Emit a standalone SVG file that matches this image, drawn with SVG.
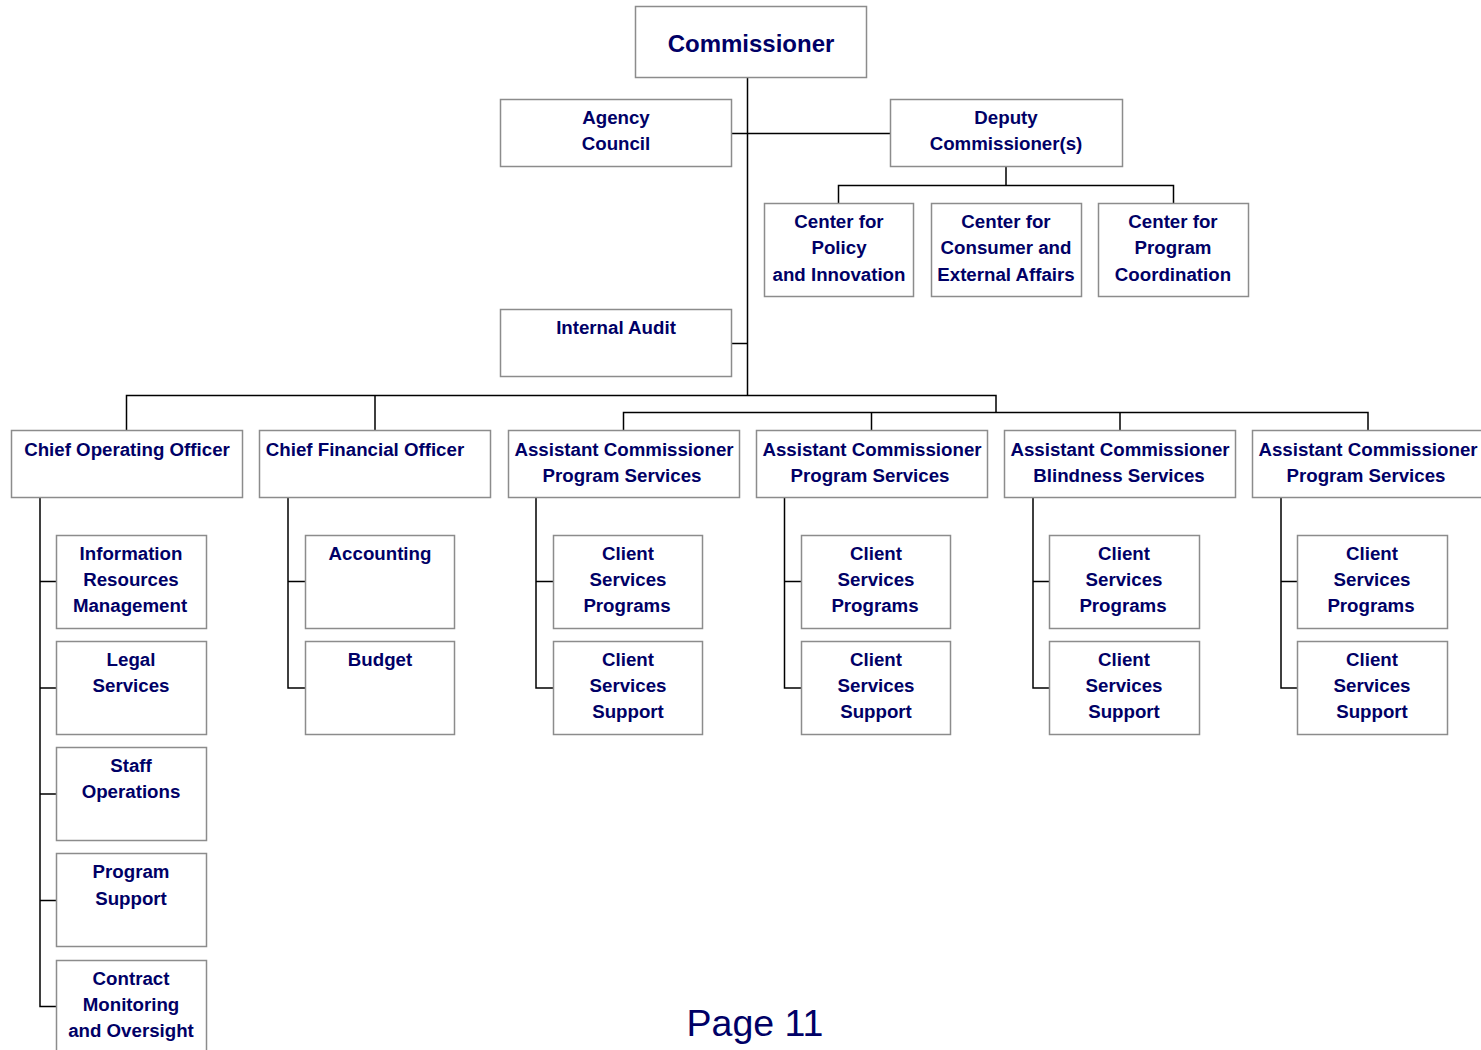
<svg xmlns="http://www.w3.org/2000/svg" width="1481" height="1050" viewBox="0 0 1481 1050">
  <style>
    .box { fill: #ffffff; stroke: #8c8c8c; stroke-width: 1.5; }
    .lbl { font-family: "Liberation Sans", Arial, sans-serif; font-weight: bold; font-size: 18.7px; fill: #000066; text-anchor: middle; }
    .big { font-size: 24px; }
    .page { font-family: "Liberation Sans", Arial, sans-serif; font-size: 37.5px; fill: #000066; text-anchor: middle; }
    .wire { fill: none; stroke: #000000; stroke-width: 1.5; }
  </style>
  <rect width="1481" height="1050" fill="#ffffff"/>

  <!-- connectors -->
  <g id="connectors" class="wire">
    <!-- commissioner trunk and staff offices -->
    <path d="M747.5 77 V395.5"/>
    <path d="M731 133.5 H890"/>
    <path d="M731 343.5 H747.5"/>
    <!-- deputy to centers -->
    <path d="M1006 166 V185.5 M838.5 203 V185.5 H1173.5 V203"/>
    <!-- main branch bar -->
    <path d="M126.5 430 V395.5 H996 V412.5 M375 395.5 V430"/>
    <path d="M623.5 430 V412.5 H1368 V430 M871.5 412.5 V430 M1120 412.5 V430"/>
    <!-- COO column -->
    <path d="M40 497 V1006.5 H56 M40 581.5 H56 M40 688 H56 M40 794 H56 M40 900.5 H56"/>
    <!-- CFO column -->
    <path d="M288 497 V688 H305 M288 581.5 H305"/>
    <!-- assistant commissioner columns -->
    <path d="M536 497 V688 H553 M536 581.5 H553"/>
    <path d="M784.5 497 V688 H801 M784.5 581.5 H801"/>
    <path d="M1033 497 V688 H1049 M1033 581.5 H1049"/>
    <path d="M1281 497 V688 H1297 M1281 581.5 H1297"/>
  </g>

  <!-- top -->
  <g id="commissioner">
    <rect class="box" x="635.5" y="6.5" width="231" height="71"/>
    <text class="lbl big" x="751" y="52">Commissioner</text>
  </g>
  <g id="agency-council">
    <rect class="box" x="500.5" y="99.5" width="231" height="67"/>
    <text class="lbl" x="616" y="124">Agency</text>
    <text class="lbl" x="616" y="150">Council</text>
  </g>
  <g id="deputy-commissioner">
    <rect class="box" x="890.5" y="99.5" width="232" height="67"/>
    <text class="lbl" x="1006" y="124">Deputy</text>
    <text class="lbl" x="1006" y="150">Commissioner(s)</text>
  </g>
  <g id="center-policy">
    <rect class="box" x="764.5" y="203.5" width="149" height="93"/>
    <text class="lbl" x="839" y="228">Center for</text>
    <text class="lbl" x="839" y="254">Policy</text>
    <text class="lbl" x="839" y="281">and Innovation</text>
  </g>
  <g id="center-consumer">
    <rect class="box" x="931.5" y="203.5" width="150" height="93"/>
    <text class="lbl" x="1006" y="228">Center for</text>
    <text class="lbl" x="1006" y="254">Consumer and</text>
    <text class="lbl" x="1006" y="281">External Affairs</text>
  </g>
  <g id="center-program">
    <rect class="box" x="1098.5" y="203.5" width="150" height="93"/>
    <text class="lbl" x="1173" y="228">Center for</text>
    <text class="lbl" x="1173" y="254">Program</text>
    <text class="lbl" x="1173" y="281">Coordination</text>
  </g>
  <g id="internal-audit">
    <rect class="box" x="500.5" y="309.5" width="231" height="67"/>
    <text class="lbl" x="616" y="334">Internal Audit</text>
  </g>

  <!-- second level -->
  <g id="coo">
    <rect class="box" x="11.5" y="430.5" width="231" height="67"/>
    <text class="lbl" x="127" y="456">Chief Operating Officer</text>
  </g>
  <g id="cfo">
    <rect class="box" x="259.5" y="430.5" width="231" height="67"/>
    <text class="lbl" x="365" y="456">Chief Financial Officer</text>
  </g>
  <g id="ac-program-1">
    <rect class="box" x="508.5" y="430.5" width="231" height="67"/>
    <text class="lbl" x="624" y="456">Assistant Commissioner</text>
    <text class="lbl" x="622" y="482">Program Services</text>
  </g>
  <g id="ac-program-2">
    <rect class="box" x="756.5" y="430.5" width="231" height="67"/>
    <text class="lbl" x="872" y="456">Assistant Commissioner</text>
    <text class="lbl" x="870" y="482">Program Services</text>
  </g>
  <g id="ac-blindness">
    <rect class="box" x="1004.5" y="430.5" width="231" height="67"/>
    <text class="lbl" x="1120" y="456">Assistant Commissioner</text>
    <text class="lbl" x="1119" y="482">Blindness Services</text>
  </g>
  <g id="ac-program-3">
    <rect class="box" x="1252.5" y="430.5" width="231" height="67"/>
    <text class="lbl" x="1368" y="456">Assistant Commissioner</text>
    <text class="lbl" x="1366" y="482">Program Services</text>
  </g>

  <!-- COO units -->
  <g id="info-resources">
    <rect class="box" x="56.5" y="535.5" width="150" height="93"/>
    <text class="lbl" x="131" y="560">Information</text>
    <text class="lbl" x="131" y="586">Resources</text>
    <text class="lbl" x="130" y="612">Management</text>
  </g>
  <g id="legal-services">
    <rect class="box" x="56.5" y="641.5" width="150" height="93"/>
    <text class="lbl" x="131" y="666">Legal</text>
    <text class="lbl" x="131" y="692">Services</text>
  </g>
  <g id="staff-operations">
    <rect class="box" x="56.5" y="747.5" width="150" height="93"/>
    <text class="lbl" x="131" y="772">Staff</text>
    <text class="lbl" x="131" y="798">Operations</text>
  </g>
  <g id="program-support">
    <rect class="box" x="56.5" y="853.5" width="150" height="93"/>
    <text class="lbl" x="131" y="878">Program</text>
    <text class="lbl" x="131" y="905">Support</text>
  </g>
  <g id="contract-monitoring">
    <rect class="box" x="56.5" y="960.5" width="150" height="93"/>
    <text class="lbl" x="131" y="985">Contract</text>
    <text class="lbl" x="131" y="1011">Monitoring</text>
    <text class="lbl" x="131" y="1037">and Oversight</text>
  </g>

  <!-- CFO units -->
  <g id="accounting">
    <rect class="box" x="305.5" y="535.5" width="149" height="93"/>
    <text class="lbl" x="380" y="560">Accounting</text>
  </g>
  <g id="budget">
    <rect class="box" x="305.5" y="641.5" width="149" height="93"/>
    <text class="lbl" x="380" y="666">Budget</text>
  </g>

  <!-- client services units -->
  <g id="csp-1">
    <rect class="box" x="553.5" y="535.5" width="149" height="93"/>
    <text class="lbl" x="628" y="560">Client</text>
    <text class="lbl" x="628" y="586">Services</text>
    <text class="lbl" x="627" y="612">Programs</text>
  </g>
  <g id="css-1">
    <rect class="box" x="553.5" y="641.5" width="149" height="93"/>
    <text class="lbl" x="628" y="666">Client</text>
    <text class="lbl" x="628" y="692">Services</text>
    <text class="lbl" x="628" y="718">Support</text>
  </g>
  <g id="csp-2">
    <rect class="box" x="801.5" y="535.5" width="149" height="93"/>
    <text class="lbl" x="876" y="560">Client</text>
    <text class="lbl" x="876" y="586">Services</text>
    <text class="lbl" x="875" y="612">Programs</text>
  </g>
  <g id="css-2">
    <rect class="box" x="801.5" y="641.5" width="149" height="93"/>
    <text class="lbl" x="876" y="666">Client</text>
    <text class="lbl" x="876" y="692">Services</text>
    <text class="lbl" x="876" y="718">Support</text>
  </g>
  <g id="csp-3">
    <rect class="box" x="1049.5" y="535.5" width="150" height="93"/>
    <text class="lbl" x="1124" y="560">Client</text>
    <text class="lbl" x="1124" y="586">Services</text>
    <text class="lbl" x="1123" y="612">Programs</text>
  </g>
  <g id="css-3">
    <rect class="box" x="1049.5" y="641.5" width="150" height="93"/>
    <text class="lbl" x="1124" y="666">Client</text>
    <text class="lbl" x="1124" y="692">Services</text>
    <text class="lbl" x="1124" y="718">Support</text>
  </g>
  <g id="csp-4">
    <rect class="box" x="1297.5" y="535.5" width="150" height="93"/>
    <text class="lbl" x="1372" y="560">Client</text>
    <text class="lbl" x="1372" y="586">Services</text>
    <text class="lbl" x="1371" y="612">Programs</text>
  </g>
  <g id="css-4">
    <rect class="box" x="1297.5" y="641.5" width="150" height="93"/>
    <text class="lbl" x="1372" y="666">Client</text>
    <text class="lbl" x="1372" y="692">Services</text>
    <text class="lbl" x="1372" y="718">Support</text>
  </g>

  <text class="page" x="755" y="1036">Page 11</text>
</svg>
